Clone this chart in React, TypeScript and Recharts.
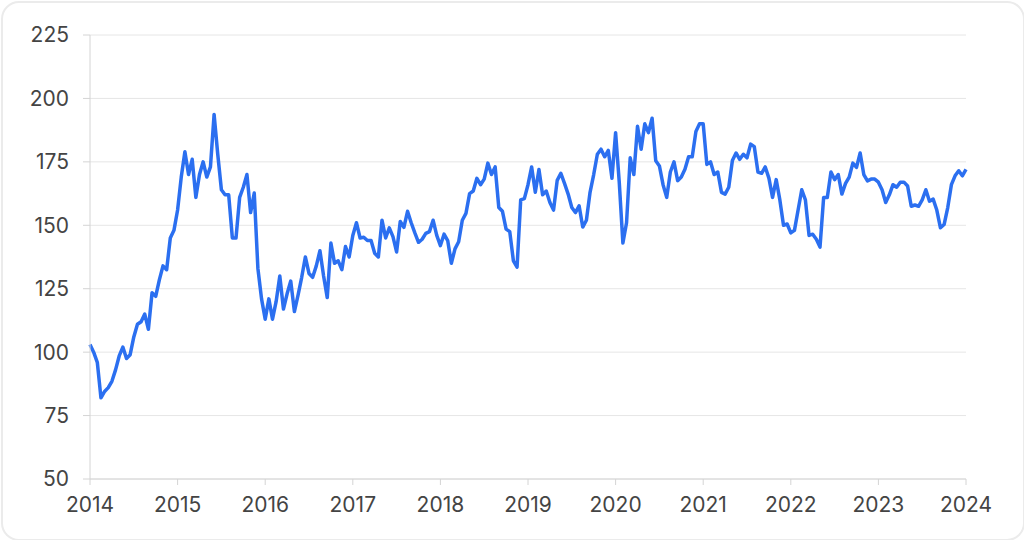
import React from "react";
import { LineChart, Line, XAxis, YAxis, CartesianGrid } from "recharts";

// semi-monthly readings, 24 per year
const v2014 = [103, 100, 96, 82, 84.5, 86, 88.5, 93, 98.5, 102, 97.5, 99, 106, 111, 112, 115, 109, 123.4, 122, 128.5, 134, 132.5, 145, 148];
const v2015 = [156, 169, 179, 170, 176, 161, 170, 175, 169, 173, 193.7, 178, 164, 162, 162, 145, 145, 161, 165, 170, 155, 162.7, 133, 121];
const v2016 = [113, 121, 113, 120, 130, 117, 123, 128, 116, 122.5, 129.5, 137.5, 131, 129.5, 134, 140, 130, 121.5, 143, 135, 136, 132.5, 141.6, 137.5];
const v2017 = [146, 151, 145, 145.3, 144, 144, 139, 137.5, 152, 145, 149, 145.5, 139.5, 151.5, 149.2, 155.5, 151, 147, 143.3, 144.5, 146.8, 147.5, 152, 146];
const v2018 = [142, 146.5, 144, 135, 140.7, 143.5, 152, 154.7, 162.5, 163.5, 168.5, 166, 168.2, 174.5, 170, 173, 157, 155.5, 148.5, 147.5, 136, 133.5, 160, 160.5];
const v2019 = [166, 173, 163, 172, 162, 163.5, 159, 156, 167.7, 170.5, 166.5, 162.3, 157, 155, 157.7, 149.3, 152, 163, 170, 178, 180, 177, 179.5, 168.5];
const v2020 = [186.5, 167, 143, 151, 176.6, 170, 189, 180, 190, 186.5, 192.2, 175.4, 173.4, 166, 161, 171, 175, 167.6, 169, 172.1, 177, 177, 187, 190];
const v2021 = [190, 174, 175, 170, 171, 163, 162.3, 165, 175.5, 178.5, 176, 178, 176.6, 182, 181, 171, 170.5, 173, 168.6, 161, 168, 160, 150, 150.5];
const v2022 = [147, 148, 156, 164, 160, 146, 146.5, 144.5, 141.4, 161, 161, 171, 168, 170, 162.3, 166.5, 169, 174.5, 172.8, 178.5, 170, 167.5, 168.2, 168.2];
const v2023 = [167, 164, 159, 162, 166, 165, 167, 167, 165.5, 157.5, 158, 157.5, 160, 164, 159.5, 160.3, 156, 149, 150.3, 157, 166, 169.5, 171.5, 169.5];
const v2024 = [172];

const years = [2014, 2015, 2016, 2017, 2018, 2019, 2020, 2021, 2022, 2023, 2024];
const yearValues = [v2014, v2015, v2016, v2017, v2018, v2019, v2020, v2021, v2022, v2023, v2024];
const yTicks = [50, 75, 100, 125, 150, 175, 200, 225];

const data = years.flatMap((yr, i) =>
  yearValues[i].map((v, k) => ({ t: yr + k / 24, value: v }))
);

const font = "Inter, Roboto, sans-serif";
const tickStyle = { fill: "#444", fontSize: 21, fontFamily: font };

export default function App() {
  return (
    <div style={{ position: "relative", width: 1024, height: 540, background: "#fff" }}>
      <style>{"body{margin:0}"}</style>
      <div
        style={{
          position: "absolute",
          left: 1,
          top: 1,
          width: 1020,
          height: 536,
          border: "2px solid #ebebeb",
          borderRadius: 18,
        }}
      />
      <div style={{ position: "absolute", left: 0, top: 0 }}>
        <LineChart width={1024} height={540} data={data} margin={{ top: 35, right: 58, bottom: 31, left: 0 }}>
          <CartesianGrid vertical={false} stroke="#e6e6e6" strokeWidth={1} />
          <XAxis
            dataKey="t"
            type="number"
            domain={[2014, 2024]}
            ticks={years}
            tick={tickStyle}
            tickSize={6}
            tickMargin={12}
            stroke="#d4d4d4"
            allowDecimals={false}
          />
          <YAxis
            domain={[50, 225]}
            ticks={yTicks}
            width={90}
            tick={tickStyle}
            tickSize={7}
            tickMargin={14}
            stroke="#d4d4d4"
          />
          <Line
            type="linear"
            dataKey="value"
            stroke="#2b6ff0"
            strokeWidth={3.5}
            strokeLinejoin="round"
            dot={false}
            isAnimationActive={false}
          />
        </LineChart>
      </div>
    </div>
  );
}
